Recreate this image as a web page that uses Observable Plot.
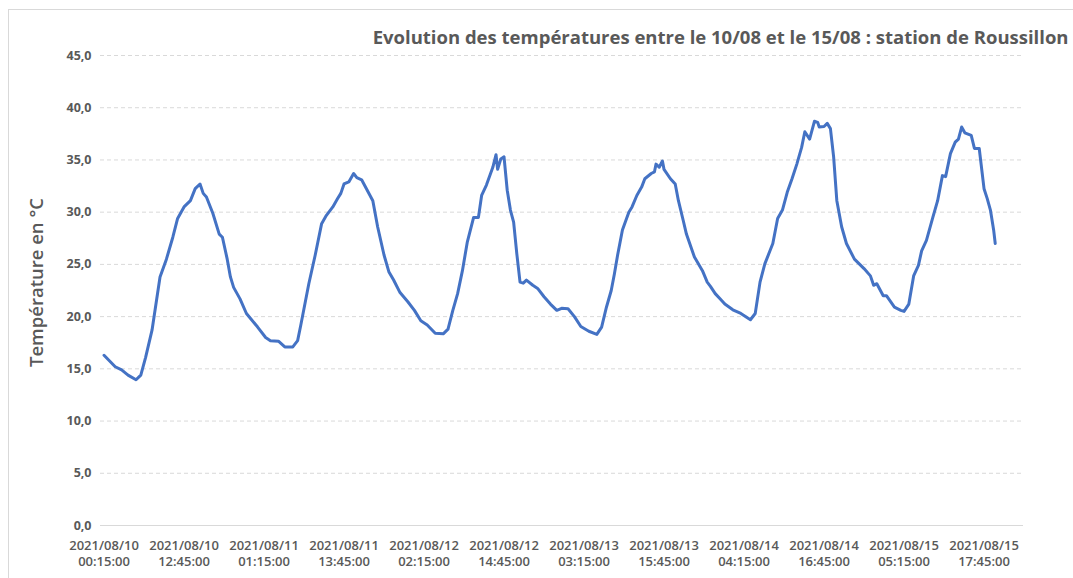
<!DOCTYPE html>
<html>
<head>
<meta charset="utf-8">
<script src="https://cdn.jsdelivr.net/npm/d3@7"></script>
<script src="https://cdn.jsdelivr.net/npm/@observablehq/plot@0.6"></script>
<style>
  html, body { margin: 0; padding: 0; background: #fff; }
  #wrap { position: relative; width: 1073px; height: 578px; overflow: hidden; }
  #frame { position: absolute; left: 8px; top: 9px; width: 1100px; height: 600px;
           border-left: 1px solid #d9d9d9; border-top: 1px solid #d9d9d9; pointer-events: none; }
  #chart { position: absolute; left: 0; top: 0; }
</style>
</head>
<body>
<div id="wrap"><div id="frame"></div><div id="chart"></div></div>
<script>
const title = "Evolution des températures entre le 10/08 et le 15/08 : station de Roussillon";
const yLabel = "Température en °C";

const times = [
  "2021-08-10T00:15","2021-08-10T02:00","2021-08-10T03:00","2021-08-10T04:00","2021-08-10T05:15","2021-08-10T06:00","2021-08-10T06:45","2021-08-10T07:45","2021-08-10T09:00","2021-08-10T10:00","2021-08-10T11:00","2021-08-10T11:45","2021-08-10T12:45","2021-08-10T13:45","2021-08-10T14:30","2021-08-10T15:15","2021-08-10T15:45","2021-08-10T16:15","2021-08-10T17:15","2021-08-10T18:15","2021-08-10T18:45","2021-08-10T19:30","2021-08-10T20:00","2021-08-10T20:30","2021-08-10T21:30","2021-08-10T22:30",
  "2021-08-11T00:15","2021-08-11T01:30","2021-08-11T02:15","2021-08-11T03:30","2021-08-11T04:30","2021-08-11T05:45","2021-08-11T06:30","2021-08-11T07:00","2021-08-11T08:15","2021-08-11T09:15","2021-08-11T10:15","2021-08-11T11:00","2021-08-11T12:00","2021-08-11T12:45","2021-08-11T13:15","2021-08-11T13:45","2021-08-11T14:30","2021-08-11T15:15","2021-08-11T15:45","2021-08-11T16:30","2021-08-11T17:15","2021-08-11T18:15","2021-08-11T19:00","2021-08-11T20:00","2021-08-11T20:45","2021-08-11T21:30","2021-08-11T22:30","2021-08-11T23:45",
  "2021-08-12T00:45","2021-08-12T01:45","2021-08-12T02:45","2021-08-12T04:00","2021-08-12T05:15","2021-08-12T06:00","2021-08-12T06:45","2021-08-12T07:30","2021-08-12T08:15","2021-08-12T09:00","2021-08-12T10:00","2021-08-12T10:45","2021-08-12T11:15","2021-08-12T12:00","2021-08-12T13:00","2021-08-12T13:30","2021-08-12T13:45","2021-08-12T14:15","2021-08-12T14:45","2021-08-12T15:15","2021-08-12T15:45","2021-08-12T16:15","2021-08-12T16:45","2021-08-12T17:15","2021-08-12T17:45","2021-08-12T18:15","2021-08-12T19:15","2021-08-12T20:00","2021-08-12T21:00","2021-08-12T22:00","2021-08-12T23:00","2021-08-12T23:45",
  "2021-08-13T00:45","2021-08-13T01:45","2021-08-13T02:45","2021-08-13T04:00","2021-08-13T05:15","2021-08-13T06:00","2021-08-13T06:45","2021-08-13T07:30","2021-08-13T08:00","2021-08-13T08:30","2021-08-13T09:15","2021-08-13T10:15","2021-08-13T10:45","2021-08-13T11:30","2021-08-13T12:15","2021-08-13T12:45","2021-08-13T13:45","2021-08-13T14:15","2021-08-13T14:30","2021-08-13T15:00","2021-08-13T15:30","2021-08-13T15:45","2021-08-13T16:45","2021-08-13T17:30","2021-08-13T18:00","2021-08-13T18:45","2021-08-13T19:15","2021-08-13T20:30","2021-08-13T21:45","2021-08-13T22:30","2021-08-13T23:00","2021-08-13T23:45",
  "2021-08-14T00:30","2021-08-14T01:15","2021-08-14T02:30","2021-08-14T03:45","2021-08-14T05:15","2021-08-14T06:00","2021-08-14T06:45","2021-08-14T07:30","2021-08-14T08:45","2021-08-14T09:30","2021-08-14T10:15","2021-08-14T11:00","2021-08-14T11:45","2021-08-14T12:30","2021-08-14T13:15","2021-08-14T13:45","2021-08-14T14:30","2021-08-14T15:15","2021-08-14T15:45","2021-08-14T16:00","2021-08-14T16:45","2021-08-14T17:15","2021-08-14T17:45","2021-08-14T18:15","2021-08-14T18:45","2021-08-14T19:30","2021-08-14T20:15","2021-08-14T21:30","2021-08-14T23:00",
  "2021-08-15T00:00","2021-08-15T00:30","2021-08-15T01:00","2021-08-15T02:00","2021-08-15T02:30","2021-08-15T03:45","2021-08-15T04:45","2021-08-15T05:15","2021-08-15T06:00","2021-08-15T06:45","2021-08-15T07:30","2021-08-15T08:00","2021-08-15T08:45","2021-08-15T09:45","2021-08-15T10:30","2021-08-15T11:15","2021-08-15T11:45","2021-08-15T12:30","2021-08-15T13:15","2021-08-15T13:45","2021-08-15T14:15","2021-08-15T14:45","2021-08-15T15:45","2021-08-15T16:15","2021-08-15T17:00","2021-08-15T17:45","2021-08-15T18:15","2021-08-15T18:45","2021-08-15T19:15","2021-08-15T19:30"
];

const temps = [
  16.3,15.2,14.9,14.4,13.95,14.4,16.1,18.7,23.8,25.5,27.6,29.4,30.5,31.1,32.25,32.7,31.8,31.45,29.9,27.9,27.6,25.5,23.8,22.8,21.7,20.3,
  19.0,18.0,17.7,17.65,17.1,17.1,17.7,19.2,23.15,25.9,28.9,29.7,30.5,31.3,31.8,32.7,32.9,33.7,33.3,33.1,32.25,31.1,28.6,25.9,24.3,23.5,22.3,21.4,
  20.6,19.6,19.2,18.4,18.35,18.8,20.6,22.2,24.4,27.1,29.5,29.5,31.6,32.6,34.3,35.5,34.1,35.1,35.3,32.1,30.2,29.05,26.0,23.3,23.2,23.5,23.0,22.7,21.9,21.2,20.6,20.8,
  20.75,20.0,19.05,18.6,18.3,19.0,20.9,22.5,24.1,25.9,28.3,30.0,30.5,31.6,32.4,33.2,33.7,33.85,34.6,34.3,34.9,34.1,33.2,32.7,31.1,29.2,27.9,25.7,24.4,23.3,22.9,22.2,
  21.7,21.2,20.65,20.3,19.7,20.3,23.3,25.05,27.0,29.4,30.2,31.9,33.2,34.6,36.2,37.7,37.0,38.7,38.6,38.15,38.2,38.5,38.0,35.3,31.1,28.6,27.0,25.5,24.6,
  23.9,23.0,23.15,22.0,22.0,20.9,20.6,20.5,21.2,23.9,24.9,26.3,27.3,29.5,31.1,33.5,33.4,35.6,36.7,37.0,38.15,37.6,37.35,36.1,36.1,32.25,31.3,30.2,28.3,27.0
];

const xTickTimes = [
  "2021-08-10T00:15","2021-08-10T12:45","2021-08-11T01:15","2021-08-11T13:45",
  "2021-08-12T02:15","2021-08-12T14:45","2021-08-13T03:15","2021-08-13T15:45",
  "2021-08-14T04:15","2021-08-14T16:45","2021-08-15T05:15","2021-08-15T17:45"
];
const yTicks = [0, 5, 10, 15, 20, 25, 30, 35, 40, 45];

const parse = s => new Date(s + ":00Z");
const data = times.map((t, i) => ({date: parse(t), temp: temps[i]}));
const xTicks = xTickTimes.map(parse);
const fmtX = d3.utcFormat("%Y/%m/%d\n%H:%M:%S");
const fmtY = d => d.toFixed(1).replace(".", ",");
const grey = "#595959";

const chart = Plot.plot({
  width: 1073,
  height: 578,
  marginLeft: 100,
  marginRight: 50,
  marginTop: 55,
  marginBottom: 53,
  style: {fontFamily: "'Open Sans', sans-serif", background: "transparent", overflow: "visible"},
  x: {type: "utc", domain: [new Date("2021-08-09T23:42:00Z"), new Date("2021-08-15T23:55:00Z")]},
  y: {domain: [0, 45]},
  marks: [
    Plot.ruleY(yTicks.filter(v => v > 0), {stroke: "#d9d9d9", strokeWidth: 1, strokeDasharray: "4,3"}),
    Plot.ruleY([0], {stroke: "#d9d9d9", strokeWidth: 1}),
    Plot.axisY({ticks: yTicks, tickFormat: fmtY, tickSize: 0, tickPadding: 9, label: null,
      fill: grey, fontSize: 12.5, fontWeight: 700}),
    Plot.axisX({ticks: xTicks, tickFormat: fmtX, tickSize: 0, tickPadding: 12, label: null,
      fill: grey, fontSize: 13, fontWeight: 600, lineHeight: 1.3}),
    Plot.lineY(data, {x: "date", y: "temp", stroke: "#4472C4", strokeWidth: 3, strokeLinejoin: "round", strokeLinecap: "round"}),
    Plot.text([title], {frameAnchor: "top-right", dx: 45, dy: -17, textAnchor: "end", lineAnchor: "middle",
      fontSize: 18.5, fontWeight: 700, fill: grey}),
    Plot.text([yLabel], {frameAnchor: "left", dx: -63, dy: -8, rotate: -90, textAnchor: "middle", lineAnchor: "middle",
      fontSize: 18.5, fontWeight: 600, fill: grey})
  ]
});
document.getElementById("chart").appendChild(chart);
</script>
</body>
</html>
